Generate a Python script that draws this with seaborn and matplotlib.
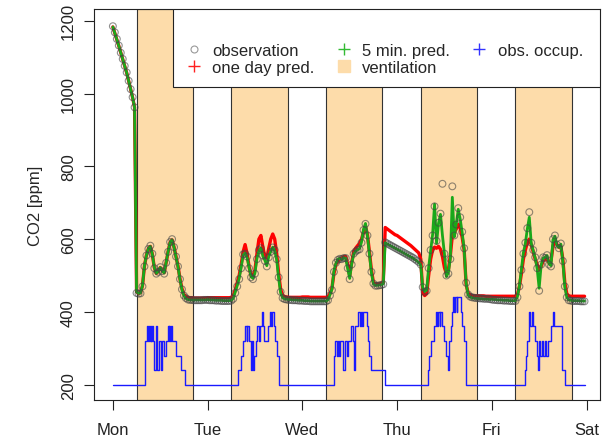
import numpy as np
import pandas as pd
import seaborn as sns
import matplotlib.pyplot as plt
from matplotlib.lines import Line2D
from matplotlib.patches import Rectangle

day_labels = ['Mon', 'Tue', 'Wed', 'Thu', 'Fri', 'Sat']
half_hours = np.arange(0, 24, 0.5)   # samples within a day (hours)
vent_on, vent_off = 6.0, 20.25       # ventilation hours each day

# observed CO2 [ppm], one value per half hour
obs_mon = [1185, 1168, 1150, 1132, 1112, 1095, 1076, 1058, 1035, 1012, 990, 962,
           452, 450, 451, 470, 525, 555, 573, 582, 560, 520, 505, 510,
           523, 512, 505, 535, 565, 592, 600, 578, 552, 525, 490, 462,
           445, 438, 434, 433, 433, 432, 432, 432, 432, 432, 433, 433]
obs_tue = [433, 432, 432, 432, 431, 431, 431, 430, 430, 430, 430, 430,
           431, 436, 452, 470, 490, 520, 558, 560, 552, 520, 495, 490,
           505, 545, 570, 575, 555, 540, 525, 550, 565, 577, 570, 545,
           495, 455, 438, 435, 434, 433, 433, 432, 432, 432, 431, 431]
obs_wed = [431, 430, 430, 430, 429, 429, 429, 429, 429, 429, 429, 429,
           429, 432, 445, 460, 510, 535, 543, 546, 545, 548, 548, 520,
           490, 530, 560, 566, 570, 572, 590, 625, 642, 610, 560, 510,
           478, 472, 472, 473, 474, 476, 591, 588, 585, 582, 579, 576]
obs_thu = [573, 570, 567, 564, 561, 558, 555, 552, 549, 545, 541, 537,
           530, 468, 455, 458, 520, 570, 610, 690, 595, 645, 670, 752,
           560, 500, 505, 545, 745, 610, 640, 685, 660, 620, 575, 480,
           448, 442, 440, 439, 438, 438, 437, 437, 436, 436, 436, 435]
obs_fri = [434, 433, 433, 432, 432, 432, 431, 431, 431, 430, 430, 430,
           430, 440, 470, 515, 560, 590, 630, 674, 590, 570, 550, 520,
           458, 530, 550, 548, 556, 530, 525, 600, 610, 585, 575, 588,
           540, 470, 440, 432, 431, 430, 430, 430, 430, 429, 429, 429]

# 5 minutes ahead prediction
min5_mon = [1183, 1166, 1150, 1131, 1112, 1094, 1076, 1057, 1035, 1012, 989, 962,
            455, 451, 452, 472, 527, 556, 574, 580, 558, 522, 506, 511,
            522, 513, 507, 536, 566, 591, 598, 577, 551, 524, 489, 461,
            444, 437, 434, 433, 433, 433, 433, 433, 433, 433, 433, 433]
min5_tue = [434, 433, 433, 433, 432, 432, 432, 432, 431, 431, 431, 431,
            432, 437, 454, 472, 492, 522, 556, 562, 550, 522, 497, 492,
            507, 547, 568, 576, 553, 542, 527, 552, 566, 578, 568, 543,
            492, 452, 439, 436, 435, 434, 434, 433, 433, 433, 432, 432]
min5_wed = [432, 431, 431, 431, 430, 430, 430, 430, 430, 430, 430, 430,
            430, 433, 447, 462, 512, 533, 545, 547, 544, 549, 547, 518,
            492, 532, 558, 567, 571, 574, 592, 627, 643, 608, 557, 508,
            477, 473, 473, 474, 475, 477, 590, 587, 584, 581, 578, 575]
min5_thu = [572, 569, 566, 563, 560, 557, 554, 551, 548, 544, 540, 536,
            528, 466, 456, 460, 522, 568, 612, 696, 588, 643, 668, 610,
            560, 497, 508, 548, 715, 606, 642, 682, 655, 618, 572, 478,
            446, 441, 439, 438, 437, 437, 436, 436, 435, 435, 435, 434]
min5_fri = [435, 434, 434, 433, 433, 433, 432, 432, 432, 431, 431, 431,
            431, 442, 472, 518, 562, 588, 628, 660, 588, 568, 548, 518,
            465, 528, 548, 550, 555, 532, 527, 598, 608, 583, 577, 586,
            538, 468, 440, 433, 432, 431, 431, 431, 431, 430, 430, 430]

# one day ahead prediction
day1_mon = [1183, 1166, 1150, 1131, 1112, 1094, 1076, 1057, 1035, 1012, 989, 962,
            455, 451, 453, 472, 526, 556, 574, 580, 558, 522, 506, 511,
            522, 514, 508, 536, 566, 591, 598, 578, 552, 526, 491, 464,
            448, 442, 440, 439, 439, 438, 438, 438, 438, 438, 438, 438]
day1_tue = [439, 439, 439, 439, 439, 439, 439, 439, 439, 439, 439, 439,
            440, 445, 460, 480, 500, 530, 565, 585, 560, 525, 500, 498,
            515, 560, 600, 610, 578, 552, 548, 575, 600, 614, 600, 560,
            505, 462, 446, 442, 441, 440, 440, 440, 440, 440, 440, 440]
day1_wed = [441, 441, 441, 441, 440, 440, 440, 440, 440, 440, 440, 440,
            440, 442, 450, 465, 505, 530, 540, 545, 548, 552, 552, 530,
            500, 535, 565, 575, 582, 588, 600, 620, 635, 612, 565, 515,
            482, 476, 476, 477, 478, 480, 632, 628, 624, 620, 616, 612]
day1_thu = [610, 606, 602, 598, 594, 590, 586, 582, 577, 572, 567, 562,
            545, 452, 445, 450, 500, 545, 570, 578, 575, 580, 572, 552,
            522, 505, 515, 555, 610, 618, 628, 640, 630, 605, 570, 475,
            452, 447, 445, 444, 444, 444, 444, 444, 444, 443, 443, 443]
day1_fri = [443, 443, 443, 443, 443, 443, 443, 443, 443, 443, 443, 443,
            443, 448, 470, 505, 545, 570, 590, 600, 585, 565, 545, 530,
            515, 525, 540, 545, 545, 535, 540, 580, 598, 585, 578, 580,
            545, 480, 450, 444, 443, 443, 443, 443, 443, 443, 443, 443]

# observed occupancy (drawn on the CO2 scale), change points in hour of day
occ_mon_t = [0, 8.1, 8.55, 9.0, 9.2, 9.35, 9.55, 9.75, 9.95, 10.2, 10.5, 10.8, 11.3, 11.6,
             12.1, 12.4, 12.9, 13.4, 13.9, 14.1, 14.3, 14.5, 14.7, 15.1, 16.0, 17.2, 18.3]
occ_mon_v = [200, 320, 360, 320, 360, 320, 360, 320, 360, 320, 240, 360, 240, 320,
             240, 320, 280, 320, 360, 320, 360, 320, 360, 320, 280, 240, 200]
occ_tue_t = [0, 7.8, 8.4, 8.9, 9.6, 9.9, 10.1, 10.5, 10.9, 11.1, 11.3, 11.5, 11.8, 12.2,
             12.6, 13.0, 13.3, 13.9, 14.1, 14.4, 15.2, 15.7, 16.0, 16.3, 16.7, 17.2, 17.6, 18.1]
occ_tue_v = [200, 240, 280, 320, 360, 320, 360, 320, 280, 240, 320, 240, 280, 320,
             360, 320, 360, 400, 360, 320, 360, 400, 360, 400, 360, 320, 280, 200]
occ_wed_t = [0, 8.1, 8.3, 8.8, 9.0, 9.3, 9.5, 10.4, 10.8, 11.2, 11.6, 12.3, 12.8, 13.2,
             13.4, 14.2, 14.6, 14.8, 15.2, 15.4, 16.3, 16.6, 17.0, 17.4, 20.9]
occ_wed_v = [200, 280, 320, 280, 320, 280, 320, 240, 320, 280, 320, 360, 320, 240,
             360, 400, 360, 400, 360, 400, 360, 320, 280, 240, 200]
occ_thu_t = [0, 7.9, 8.2, 8.6, 9.4, 9.9, 10.2, 10.4, 10.8, 11.0, 11.4, 12.0, 12.4, 12.8,
             13.1, 13.6, 14.0, 14.2, 14.5, 14.7, 15.1, 15.3, 15.7, 16.1, 16.5, 16.9, 17.5]
occ_thu_v = [200, 240, 280, 320, 360, 400, 360, 400, 360, 400, 360, 320, 280, 240,
             320, 360, 400, 440, 400, 440, 400, 440, 440, 400, 360, 320, 200]
occ_fri_t = [0, 8.3, 8.6, 8.9, 9.4, 9.8, 10.2, 10.5, 10.9, 11.4, 11.6, 11.9, 12.3, 12.6,
             13.0, 13.4, 13.8, 14.2, 14.9, 15.4, 15.8, 17.9, 18.6, 23.5]
occ_fri_v = [200, 240, 280, 320, 400, 360, 400, 360, 320, 280, 240, 320, 280, 320,
             280, 320, 280, 320, 360, 400, 360, 240, 200, 200]

obs_days = [obs_mon, obs_tue, obs_wed, obs_thu, obs_fri]
min5_days = [min5_mon, min5_tue, min5_wed, min5_thu, min5_fri]
day1_days = [day1_mon, day1_tue, day1_wed, day1_thu, day1_fri]
occ_t_days = [occ_mon_t, occ_tue_t, occ_wed_t, occ_thu_t, occ_fri_t]
occ_v_days = [occ_mon_v, occ_tue_v, occ_wed_v, occ_thu_v, occ_fri_v]

df = pd.DataFrame({
    'hour': np.concatenate([half_hours + 24 * d for d in range(5)]),
    'obs': np.concatenate(obs_days),
    'min5': np.concatenate(min5_days),
    'day1': np.concatenate(day1_days),
})
occ = pd.DataFrame({
    'hour': np.concatenate([np.array(t) + 24 * d for d, t in enumerate(occ_t_days)]),
    'occ': np.concatenate(occ_v_days),
})

sns.set_style('ticks')
plt.rcParams['font.family'] = ['Liberation Sans', 'DejaVu Sans']

vent_col = '#fddcaa'
green = '#1aa81a'

fig = plt.figure(figsize=(6.06, 4.39), dpi=100)
ax = fig.add_axes([0.155, 0.0866, 0.835, 0.8904])

for d in range(5):
    ax.axvspan(24 * d + vent_on, 24 * d + vent_off, facecolor=vent_col,
               edgecolor='#333333', linewidth=0.8, zorder=0)

sns.lineplot(data=df, x='hour', y='day1', color='red', linewidth=2.4,
             estimator=None, sort=False, legend=False, ax=ax, zorder=3)
sns.lineplot(data=df, x='hour', y='min5', color=green, linewidth=2.0,
             estimator=None, sort=False, legend=False, ax=ax, zorder=4)
sns.scatterplot(data=df, x='hour', y='obs', marker='o', s=24, facecolor='none',
                edgecolor='#444444', linewidth=0.8, alpha=0.6, legend=False,
                ax=ax, zorder=5)
sns.lineplot(data=occ, x='hour', y='occ', color='#1a1aff', linewidth=1.0,
             drawstyle='steps-post', estimator=None, sort=False, legend=False,
             ax=ax, zorder=6)

ax.set_xlim(-4.8, 123.4)
ax.set_ylim(158, 1232)
ax.set_xticks([24 * i for i in range(6)])
ax.set_xticklabels(day_labels, fontsize=12)
yt = [200, 400, 600, 800, 1000, 1200]
ax.set_yticks(yt)
ax.set_yticklabels([str(v) for v in yt], fontsize=12, rotation=90, va='center')
ax.tick_params(axis='x', length=7, width=0.8, pad=9, colors='#222222')
ax.tick_params(axis='y', length=7, width=0.8, pad=6, colors='#222222')
ax.set_xlabel('')
ax.set_ylabel('CO2 [ppm]', fontsize=12, labelpad=13)
for sp in ax.spines.values():
    sp.set_visible(True)
    sp.set_color('#222222')
    sp.set_linewidth(0.8)

# legend box
ax.add_patch(Rectangle((0.156, 0.80), 0.844, 0.2, transform=ax.transAxes,
                       facecolor='white', edgecolor='#222222', linewidth=0.8, zorder=7))
handles = [
    Line2D([], [], ls='none', marker='o', mfc='none', mec='#999999', ms=5, mew=0.8),
    Line2D([], [], ls='none', marker='+', color='#ff2020', ms=8, mew=1.0),
    Line2D([], [], ls='none', marker='+', color='#33bb33', ms=8, mew=1.0),
    Line2D([], [], ls='none', marker='s', color=vent_col, ms=8),
    Line2D([], [], ls='none', marker='+', color='#3333ff', ms=8, mew=1.0),
]
labels = ['observation', 'one day pred.', '5 min. pred.', 'ventilation', 'obs. occup.']
leg = ax.legend(handles, labels, ncol=3, loc='upper left', bbox_to_anchor=(0.165, 0.935),
                frameon=False, fontsize=12, borderpad=0, handlelength=1.0,
                handletextpad=0.6, columnspacing=1.25, labelspacing=0.1)
leg.set_zorder(8)

fig.savefig('out.png', dpi=100)
